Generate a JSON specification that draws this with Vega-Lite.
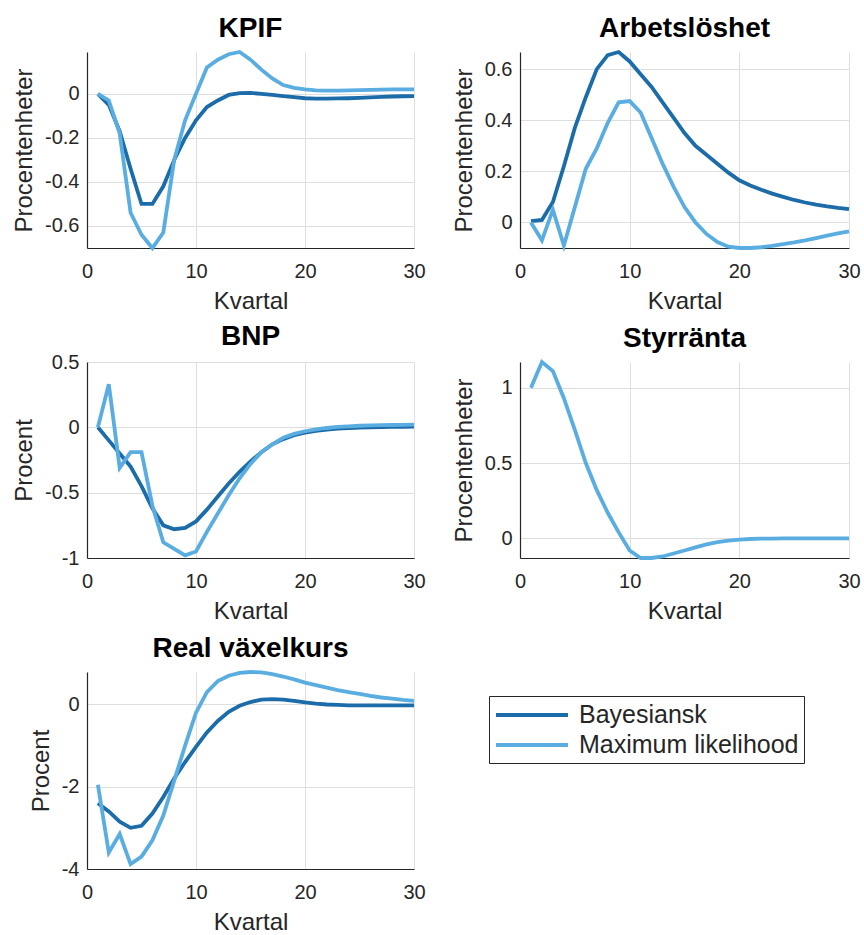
{
"$schema": "https://vega.github.io/schema/vega-lite/v6.json",
"padding": {"left": 12, "top": 15, "right": 5, "bottom": 5},
"background": "white",
"config": {
 "font": "Liberation Sans",
 "view": {"stroke": null},
 "axis": {"domainColor": "#262626", "domainWidth": 1.2, "gridColor": "#dedede", "gridWidth": 1, "ticks": false, "labelFontSize": 20, "labelColor": "#262626", "titleFontSize": 24, "titleFontWeight": "normal", "titleColor": "#262626", "labelFlush": false, "labelOverlap": false, "labelExpr": "toString(datum.value)"},
 "axisX": {"labelPadding": 13, "titlePadding": 8},
 "axisY": {"labelPadding": 8, "titlePadding": 8},
 "title": {"fontSize": 28, "fontWeight": "bold", "color": "#000000", "offset": 1, "anchor": "middle"},
 "line": {"strokeWidth": 3.8, "clip": true}
},
"data": {"values": [
{"p":"KPIF","s":"Bayesiansk","t":1,"v":0},{"p":"KPIF","s":"Bayesiansk","t":2,"v":-0.05},{"p":"KPIF","s":"Bayesiansk","t":3,"v":-0.17},{"p":"KPIF","s":"Bayesiansk","t":4,"v":-0.34},{"p":"KPIF","s":"Bayesiansk","t":5,"v":-0.5},{"p":"KPIF","s":"Bayesiansk","t":6,"v":-0.5},{"p":"KPIF","s":"Bayesiansk","t":7,"v":-0.42},{"p":"KPIF","s":"Bayesiansk","t":8,"v":-0.3},{"p":"KPIF","s":"Bayesiansk","t":9,"v":-0.2},{"p":"KPIF","s":"Bayesiansk","t":10,"v":-0.12},{"p":"KPIF","s":"Bayesiansk","t":11,"v":-0.06},{"p":"KPIF","s":"Bayesiansk","t":12,"v":-0.03},{"p":"KPIF","s":"Bayesiansk","t":13,"v":-0.005},{"p":"KPIF","s":"Bayesiansk","t":14,"v":0.003},{"p":"KPIF","s":"Bayesiansk","t":15,"v":0.004},{"p":"KPIF","s":"Bayesiansk","t":16,"v":0},{"p":"KPIF","s":"Bayesiansk","t":17,"v":-0.005},{"p":"KPIF","s":"Bayesiansk","t":18,"v":-0.01},{"p":"KPIF","s":"Bayesiansk","t":19,"v":-0.015},{"p":"KPIF","s":"Bayesiansk","t":20,"v":-0.02},{"p":"KPIF","s":"Bayesiansk","t":21,"v":-0.022},{"p":"KPIF","s":"Bayesiansk","t":22,"v":-0.022},{"p":"KPIF","s":"Bayesiansk","t":23,"v":-0.021},{"p":"KPIF","s":"Bayesiansk","t":24,"v":-0.02},{"p":"KPIF","s":"Bayesiansk","t":25,"v":-0.018},{"p":"KPIF","s":"Bayesiansk","t":26,"v":-0.016},{"p":"KPIF","s":"Bayesiansk","t":27,"v":-0.014},{"p":"KPIF","s":"Bayesiansk","t":28,"v":-0.012},{"p":"KPIF","s":"Bayesiansk","t":29,"v":-0.011},{"p":"KPIF","s":"Bayesiansk","t":30,"v":-0.01},
{"p":"KPIF","s":"Maximum likelihood","t":1,"v":0},{"p":"KPIF","s":"Maximum likelihood","t":2,"v":-0.03},{"p":"KPIF","s":"Maximum likelihood","t":3,"v":-0.18},{"p":"KPIF","s":"Maximum likelihood","t":4,"v":-0.54},{"p":"KPIF","s":"Maximum likelihood","t":5,"v":-0.64},{"p":"KPIF","s":"Maximum likelihood","t":6,"v":-0.7},{"p":"KPIF","s":"Maximum likelihood","t":7,"v":-0.63},{"p":"KPIF","s":"Maximum likelihood","t":8,"v":-0.3},{"p":"KPIF","s":"Maximum likelihood","t":9,"v":-0.12},{"p":"KPIF","s":"Maximum likelihood","t":10,"v":0.0},{"p":"KPIF","s":"Maximum likelihood","t":11,"v":0.12},{"p":"KPIF","s":"Maximum likelihood","t":12,"v":0.155},{"p":"KPIF","s":"Maximum likelihood","t":13,"v":0.18},{"p":"KPIF","s":"Maximum likelihood","t":14,"v":0.19},{"p":"KPIF","s":"Maximum likelihood","t":15,"v":0.155},{"p":"KPIF","s":"Maximum likelihood","t":16,"v":0.11},{"p":"KPIF","s":"Maximum likelihood","t":17,"v":0.07},{"p":"KPIF","s":"Maximum likelihood","t":18,"v":0.04},{"p":"KPIF","s":"Maximum likelihood","t":19,"v":0.027},{"p":"KPIF","s":"Maximum likelihood","t":20,"v":0.02},{"p":"KPIF","s":"Maximum likelihood","t":21,"v":0.016},{"p":"KPIF","s":"Maximum likelihood","t":22,"v":0.015},{"p":"KPIF","s":"Maximum likelihood","t":23,"v":0.015},{"p":"KPIF","s":"Maximum likelihood","t":24,"v":0.016},{"p":"KPIF","s":"Maximum likelihood","t":25,"v":0.017},{"p":"KPIF","s":"Maximum likelihood","t":26,"v":0.018},{"p":"KPIF","s":"Maximum likelihood","t":27,"v":0.019},{"p":"KPIF","s":"Maximum likelihood","t":28,"v":0.02},{"p":"KPIF","s":"Maximum likelihood","t":29,"v":0.02},{"p":"KPIF","s":"Maximum likelihood","t":30,"v":0.02},
{"p":"Arb","s":"Bayesiansk","t":1,"v":0.005},{"p":"Arb","s":"Bayesiansk","t":2,"v":0.01},{"p":"Arb","s":"Bayesiansk","t":3,"v":0.08},{"p":"Arb","s":"Bayesiansk","t":4,"v":0.22},{"p":"Arb","s":"Bayesiansk","t":5,"v":0.37},{"p":"Arb","s":"Bayesiansk","t":6,"v":0.49},{"p":"Arb","s":"Bayesiansk","t":7,"v":0.6},{"p":"Arb","s":"Bayesiansk","t":8,"v":0.655},{"p":"Arb","s":"Bayesiansk","t":9,"v":0.667},{"p":"Arb","s":"Bayesiansk","t":10,"v":0.63},{"p":"Arb","s":"Bayesiansk","t":11,"v":0.58},{"p":"Arb","s":"Bayesiansk","t":12,"v":0.53},{"p":"Arb","s":"Bayesiansk","t":13,"v":0.47},{"p":"Arb","s":"Bayesiansk","t":14,"v":0.41},{"p":"Arb","s":"Bayesiansk","t":15,"v":0.35},{"p":"Arb","s":"Bayesiansk","t":16,"v":0.3},{"p":"Arb","s":"Bayesiansk","t":17,"v":0.265},{"p":"Arb","s":"Bayesiansk","t":18,"v":0.23},{"p":"Arb","s":"Bayesiansk","t":19,"v":0.195},{"p":"Arb","s":"Bayesiansk","t":20,"v":0.165},{"p":"Arb","s":"Bayesiansk","t":21,"v":0.145},{"p":"Arb","s":"Bayesiansk","t":22,"v":0.128},{"p":"Arb","s":"Bayesiansk","t":23,"v":0.113},{"p":"Arb","s":"Bayesiansk","t":24,"v":0.1},{"p":"Arb","s":"Bayesiansk","t":25,"v":0.088},{"p":"Arb","s":"Bayesiansk","t":26,"v":0.078},{"p":"Arb","s":"Bayesiansk","t":27,"v":0.07},{"p":"Arb","s":"Bayesiansk","t":28,"v":0.063},{"p":"Arb","s":"Bayesiansk","t":29,"v":0.057},{"p":"Arb","s":"Bayesiansk","t":30,"v":0.052},
{"p":"Arb","s":"Maximum likelihood","t":1,"v":0},{"p":"Arb","s":"Maximum likelihood","t":2,"v":-0.07},{"p":"Arb","s":"Maximum likelihood","t":3,"v":0.05},{"p":"Arb","s":"Maximum likelihood","t":4,"v":-0.09},{"p":"Arb","s":"Maximum likelihood","t":5,"v":0.06},{"p":"Arb","s":"Maximum likelihood","t":6,"v":0.21},{"p":"Arb","s":"Maximum likelihood","t":7,"v":0.29},{"p":"Arb","s":"Maximum likelihood","t":8,"v":0.39},{"p":"Arb","s":"Maximum likelihood","t":9,"v":0.47},{"p":"Arb","s":"Maximum likelihood","t":10,"v":0.475},{"p":"Arb","s":"Maximum likelihood","t":11,"v":0.43},{"p":"Arb","s":"Maximum likelihood","t":12,"v":0.33},{"p":"Arb","s":"Maximum likelihood","t":13,"v":0.23},{"p":"Arb","s":"Maximum likelihood","t":14,"v":0.14},{"p":"Arb","s":"Maximum likelihood","t":15,"v":0.06},{"p":"Arb","s":"Maximum likelihood","t":16,"v":0.0},{"p":"Arb","s":"Maximum likelihood","t":17,"v":-0.045},{"p":"Arb","s":"Maximum likelihood","t":18,"v":-0.077},{"p":"Arb","s":"Maximum likelihood","t":19,"v":-0.095},{"p":"Arb","s":"Maximum likelihood","t":20,"v":-0.1},{"p":"Arb","s":"Maximum likelihood","t":21,"v":-0.1},{"p":"Arb","s":"Maximum likelihood","t":22,"v":-0.097},{"p":"Arb","s":"Maximum likelihood","t":23,"v":-0.092},{"p":"Arb","s":"Maximum likelihood","t":24,"v":-0.085},{"p":"Arb","s":"Maximum likelihood","t":25,"v":-0.078},{"p":"Arb","s":"Maximum likelihood","t":26,"v":-0.07},{"p":"Arb","s":"Maximum likelihood","t":27,"v":-0.061},{"p":"Arb","s":"Maximum likelihood","t":28,"v":-0.052},{"p":"Arb","s":"Maximum likelihood","t":29,"v":-0.043},{"p":"Arb","s":"Maximum likelihood","t":30,"v":-0.035},
{"p":"BNP","s":"Bayesiansk","t":1,"v":0},{"p":"BNP","s":"Bayesiansk","t":2,"v":-0.1},{"p":"BNP","s":"Bayesiansk","t":3,"v":-0.2},{"p":"BNP","s":"Bayesiansk","t":4,"v":-0.3},{"p":"BNP","s":"Bayesiansk","t":5,"v":-0.45},{"p":"BNP","s":"Bayesiansk","t":6,"v":-0.62},{"p":"BNP","s":"Bayesiansk","t":7,"v":-0.75},{"p":"BNP","s":"Bayesiansk","t":8,"v":-0.78},{"p":"BNP","s":"Bayesiansk","t":9,"v":-0.77},{"p":"BNP","s":"Bayesiansk","t":10,"v":-0.72},{"p":"BNP","s":"Bayesiansk","t":11,"v":-0.63},{"p":"BNP","s":"Bayesiansk","t":12,"v":-0.53},{"p":"BNP","s":"Bayesiansk","t":13,"v":-0.43},{"p":"BNP","s":"Bayesiansk","t":14,"v":-0.34},{"p":"BNP","s":"Bayesiansk","t":15,"v":-0.26},{"p":"BNP","s":"Bayesiansk","t":16,"v":-0.19},{"p":"BNP","s":"Bayesiansk","t":17,"v":-0.13},{"p":"BNP","s":"Bayesiansk","t":18,"v":-0.09},{"p":"BNP","s":"Bayesiansk","t":19,"v":-0.06},{"p":"BNP","s":"Bayesiansk","t":20,"v":-0.04},{"p":"BNP","s":"Bayesiansk","t":21,"v":-0.027},{"p":"BNP","s":"Bayesiansk","t":22,"v":-0.017},{"p":"BNP","s":"Bayesiansk","t":23,"v":-0.01},{"p":"BNP","s":"Bayesiansk","t":24,"v":-0.005},{"p":"BNP","s":"Bayesiansk","t":25,"v":-0.002},{"p":"BNP","s":"Bayesiansk","t":26,"v":0},{"p":"BNP","s":"Bayesiansk","t":27,"v":0.002},{"p":"BNP","s":"Bayesiansk","t":28,"v":0.003},{"p":"BNP","s":"Bayesiansk","t":29,"v":0.004},{"p":"BNP","s":"Bayesiansk","t":30,"v":0.005},
{"p":"BNP","s":"Maximum likelihood","t":1,"v":0},{"p":"BNP","s":"Maximum likelihood","t":2,"v":0.33},{"p":"BNP","s":"Maximum likelihood","t":3,"v":-0.31},{"p":"BNP","s":"Maximum likelihood","t":4,"v":-0.19},{"p":"BNP","s":"Maximum likelihood","t":5,"v":-0.19},{"p":"BNP","s":"Maximum likelihood","t":6,"v":-0.6},{"p":"BNP","s":"Maximum likelihood","t":7,"v":-0.88},{"p":"BNP","s":"Maximum likelihood","t":8,"v":-0.93},{"p":"BNP","s":"Maximum likelihood","t":9,"v":-0.98},{"p":"BNP","s":"Maximum likelihood","t":10,"v":-0.95},{"p":"BNP","s":"Maximum likelihood","t":11,"v":-0.8},{"p":"BNP","s":"Maximum likelihood","t":12,"v":-0.66},{"p":"BNP","s":"Maximum likelihood","t":13,"v":-0.52},{"p":"BNP","s":"Maximum likelihood","t":14,"v":-0.39},{"p":"BNP","s":"Maximum likelihood","t":15,"v":-0.28},{"p":"BNP","s":"Maximum likelihood","t":16,"v":-0.19},{"p":"BNP","s":"Maximum likelihood","t":17,"v":-0.13},{"p":"BNP","s":"Maximum likelihood","t":18,"v":-0.08},{"p":"BNP","s":"Maximum likelihood","t":19,"v":-0.05},{"p":"BNP","s":"Maximum likelihood","t":20,"v":-0.03},{"p":"BNP","s":"Maximum likelihood","t":21,"v":-0.015},{"p":"BNP","s":"Maximum likelihood","t":22,"v":-0.005},{"p":"BNP","s":"Maximum likelihood","t":23,"v":0.003},{"p":"BNP","s":"Maximum likelihood","t":24,"v":0.008},{"p":"BNP","s":"Maximum likelihood","t":25,"v":0.012},{"p":"BNP","s":"Maximum likelihood","t":26,"v":0.015},{"p":"BNP","s":"Maximum likelihood","t":27,"v":0.017},{"p":"BNP","s":"Maximum likelihood","t":28,"v":0.018},{"p":"BNP","s":"Maximum likelihood","t":29,"v":0.019},{"p":"BNP","s":"Maximum likelihood","t":30,"v":0.02},
{"p":"Styr","s":"Maximum likelihood","t":1,"v":1.0},{"p":"Styr","s":"Maximum likelihood","t":2,"v":1.17},{"p":"Styr","s":"Maximum likelihood","t":3,"v":1.11},{"p":"Styr","s":"Maximum likelihood","t":4,"v":0.93},{"p":"Styr","s":"Maximum likelihood","t":5,"v":0.72},{"p":"Styr","s":"Maximum likelihood","t":6,"v":0.5},{"p":"Styr","s":"Maximum likelihood","t":7,"v":0.32},{"p":"Styr","s":"Maximum likelihood","t":8,"v":0.17},{"p":"Styr","s":"Maximum likelihood","t":9,"v":0.04},{"p":"Styr","s":"Maximum likelihood","t":10,"v":-0.08},{"p":"Styr","s":"Maximum likelihood","t":11,"v":-0.13},{"p":"Styr","s":"Maximum likelihood","t":12,"v":-0.13},{"p":"Styr","s":"Maximum likelihood","t":13,"v":-0.12},{"p":"Styr","s":"Maximum likelihood","t":14,"v":-0.1},{"p":"Styr","s":"Maximum likelihood","t":15,"v":-0.08},{"p":"Styr","s":"Maximum likelihood","t":16,"v":-0.06},{"p":"Styr","s":"Maximum likelihood","t":17,"v":-0.04},{"p":"Styr","s":"Maximum likelihood","t":18,"v":-0.025},{"p":"Styr","s":"Maximum likelihood","t":19,"v":-0.015},{"p":"Styr","s":"Maximum likelihood","t":20,"v":-0.008},{"p":"Styr","s":"Maximum likelihood","t":21,"v":-0.004},{"p":"Styr","s":"Maximum likelihood","t":22,"v":-0.002},{"p":"Styr","s":"Maximum likelihood","t":23,"v":-0.001},{"p":"Styr","s":"Maximum likelihood","t":24,"v":0},{"p":"Styr","s":"Maximum likelihood","t":25,"v":0},{"p":"Styr","s":"Maximum likelihood","t":26,"v":0},{"p":"Styr","s":"Maximum likelihood","t":27,"v":0},{"p":"Styr","s":"Maximum likelihood","t":28,"v":0},{"p":"Styr","s":"Maximum likelihood","t":29,"v":0},{"p":"Styr","s":"Maximum likelihood","t":30,"v":0},
{"p":"Real","s":"Bayesiansk","t":1,"v":-2.4},{"p":"Real","s":"Bayesiansk","t":2,"v":-2.6},{"p":"Real","s":"Bayesiansk","t":3,"v":-2.85},{"p":"Real","s":"Bayesiansk","t":4,"v":-3.0},{"p":"Real","s":"Bayesiansk","t":5,"v":-2.95},{"p":"Real","s":"Bayesiansk","t":6,"v":-2.65},{"p":"Real","s":"Bayesiansk","t":7,"v":-2.25},{"p":"Real","s":"Bayesiansk","t":8,"v":-1.8},{"p":"Real","s":"Bayesiansk","t":9,"v":-1.4},{"p":"Real","s":"Bayesiansk","t":10,"v":-1.03},{"p":"Real","s":"Bayesiansk","t":11,"v":-0.68},{"p":"Real","s":"Bayesiansk","t":12,"v":-0.4},{"p":"Real","s":"Bayesiansk","t":13,"v":-0.18},{"p":"Real","s":"Bayesiansk","t":14,"v":-0.03},{"p":"Real","s":"Bayesiansk","t":15,"v":0.06},{"p":"Real","s":"Bayesiansk","t":16,"v":0.12},{"p":"Real","s":"Bayesiansk","t":17,"v":0.13},{"p":"Real","s":"Bayesiansk","t":18,"v":0.12},{"p":"Real","s":"Bayesiansk","t":19,"v":0.09},{"p":"Real","s":"Bayesiansk","t":20,"v":0.05},{"p":"Real","s":"Bayesiansk","t":21,"v":0.02},{"p":"Real","s":"Bayesiansk","t":22,"v":0.0},{"p":"Real","s":"Bayesiansk","t":23,"v":-0.01},{"p":"Real","s":"Bayesiansk","t":24,"v":-0.02},{"p":"Real","s":"Bayesiansk","t":25,"v":-0.02},{"p":"Real","s":"Bayesiansk","t":26,"v":-0.02},{"p":"Real","s":"Bayesiansk","t":27,"v":-0.02},{"p":"Real","s":"Bayesiansk","t":28,"v":-0.02},{"p":"Real","s":"Bayesiansk","t":29,"v":-0.02},{"p":"Real","s":"Bayesiansk","t":30,"v":-0.02},
{"p":"Real","s":"Maximum likelihood","t":1,"v":-1.95},{"p":"Real","s":"Maximum likelihood","t":2,"v":-3.6},{"p":"Real","s":"Maximum likelihood","t":3,"v":-3.15},{"p":"Real","s":"Maximum likelihood","t":4,"v":-3.88},{"p":"Real","s":"Maximum likelihood","t":5,"v":-3.7},{"p":"Real","s":"Maximum likelihood","t":6,"v":-3.3},{"p":"Real","s":"Maximum likelihood","t":7,"v":-2.7},{"p":"Real","s":"Maximum likelihood","t":8,"v":-1.85},{"p":"Real","s":"Maximum likelihood","t":9,"v":-1.0},{"p":"Real","s":"Maximum likelihood","t":10,"v":-0.2},{"p":"Real","s":"Maximum likelihood","t":11,"v":0.3},{"p":"Real","s":"Maximum likelihood","t":12,"v":0.57},{"p":"Real","s":"Maximum likelihood","t":13,"v":0.7},{"p":"Real","s":"Maximum likelihood","t":14,"v":0.77},{"p":"Real","s":"Maximum likelihood","t":15,"v":0.79},{"p":"Real","s":"Maximum likelihood","t":16,"v":0.78},{"p":"Real","s":"Maximum likelihood","t":17,"v":0.74},{"p":"Real","s":"Maximum likelihood","t":18,"v":0.68},{"p":"Real","s":"Maximum likelihood","t":19,"v":0.61},{"p":"Real","s":"Maximum likelihood","t":20,"v":0.53},{"p":"Real","s":"Maximum likelihood","t":21,"v":0.47},{"p":"Real","s":"Maximum likelihood","t":22,"v":0.41},{"p":"Real","s":"Maximum likelihood","t":23,"v":0.35},{"p":"Real","s":"Maximum likelihood","t":24,"v":0.3},{"p":"Real","s":"Maximum likelihood","t":25,"v":0.26},{"p":"Real","s":"Maximum likelihood","t":26,"v":0.21},{"p":"Real","s":"Maximum likelihood","t":27,"v":0.17},{"p":"Real","s":"Maximum likelihood","t":28,"v":0.14},{"p":"Real","s":"Maximum likelihood","t":29,"v":0.11},{"p":"Real","s":"Maximum likelihood","t":30,"v":0.09}
]},
"bounds": "flush",
"columns": 2,
"spacing": {"row": 114, "column": 106},
"concat": [
  {"title": "KPIF", "width": 327, "height": 196,
   "transform": [{"filter": "datum.p === 'KPIF'"}],
   "mark": {"type": "line"},
   "encoding": {
    "x": {"field": "t", "type": "quantitative", "scale": {"domain": [0, 30], "nice": false}, "axis": {"values": [0, 10, 20, 30], "title": "Kvartal"}},
    "y": {"field": "v", "type": "quantitative", "scale": {"domain": [-0.7, 0.19], "nice": false, "zero": false}, "axis": {"values": [-0.6, -0.4, -0.2, 0], "title": "Procentenheter"}},
    "color": {"field": "s", "type": "nominal", "scale": {"domain": ["Bayesiansk", "Maximum likelihood"], "range": ["#1b6ca8", "#5aade0"]},
     "legend": {"title": null, "orient": "none", "legendX": 402, "legendY": 644, "strokeColor": "#262626", "fillColor": "white", "padding": 5, "symbolType": "M-1,0H5", "symbolSize": 576, "symbolStrokeWidth": 4, "labelFontSize": 25, "labelColor": "#262626", "labelOffset": 57, "labelLimit": 400, "rowPadding": 3}}
   }},
  {"title": "Arbetslöshet", "width": 329, "height": 196,
   "transform": [{"filter": "datum.p === 'Arb'"}],
   "mark": {"type": "line"},
   "encoding": {
    "x": {"field": "t", "type": "quantitative", "scale": {"domain": [0, 30], "nice": false}, "axis": {"values": [0, 10, 20, 30], "title": "Kvartal"}},
    "y": {"field": "v", "type": "quantitative", "scale": {"domain": [-0.1, 0.667], "nice": false, "zero": false}, "axis": {"values": [0, 0.2, 0.4, 0.6], "title": "Procentenheter"}},
    "color": {"field": "s", "type": "nominal"}
   }},
  {"title": "BNP", "width": 327, "height": 196,
   "transform": [{"filter": "datum.p === 'BNP'"}],
   "mark": {"type": "line"},
   "encoding": {
    "x": {"field": "t", "type": "quantitative", "scale": {"domain": [0, 30], "nice": false}, "axis": {"values": [0, 10, 20, 30], "title": "Kvartal"}},
    "y": {"field": "v", "type": "quantitative", "scale": {"domain": [-1, 0.5], "nice": false, "zero": false}, "axis": {"values": [-1, -0.5, 0, 0.5], "title": "Procent"}},
    "color": {"field": "s", "type": "nominal"}
   }},
  {"title": "Styrränta", "width": 329, "height": 196,
   "transform": [{"filter": "datum.p === 'Styr'"}],
   "mark": {"type": "line"},
   "encoding": {
    "x": {"field": "t", "type": "quantitative", "scale": {"domain": [0, 30], "nice": false}, "axis": {"values": [0, 10, 20, 30], "title": "Kvartal"}},
    "y": {"field": "v", "type": "quantitative", "scale": {"domain": [-0.13, 1.17], "nice": false, "zero": false}, "axis": {"values": [0, 0.5, 1], "title": "Procentenheter"}},
    "color": {"field": "s", "type": "nominal"}
   }},
  {"title": "Real växelkurs", "width": 327, "height": 197,
   "transform": [{"filter": "datum.p === 'Real'"}],
   "mark": {"type": "line"},
   "encoding": {
    "x": {"field": "t", "type": "quantitative", "scale": {"domain": [0, 30], "nice": false}, "axis": {"values": [0, 10, 20, 30], "title": "Kvartal"}},
    "y": {"field": "v", "type": "quantitative", "scale": {"domain": [-4, 0.79], "nice": false, "zero": false}, "axis": {"values": [-4, -2, 0], "title": "Procent"}},
    "color": {"field": "s", "type": "nominal"}
   }}
]
}
